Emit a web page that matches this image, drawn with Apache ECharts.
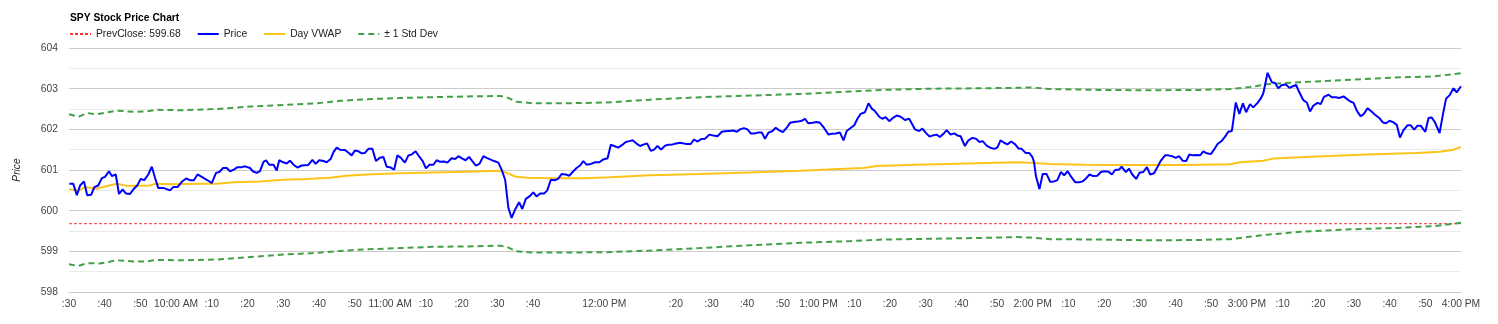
<!DOCTYPE html>
<html>
<head>
<meta charset="utf-8">
<script src="https://cdn.jsdelivr.net/npm/echarts@6/dist/echarts.min.js"></script>
<style>html,body{margin:0;padding:0;background:#fff}#c{width:1498px;height:324px}</style>
</head>
<body>
<div id="c"></div>
<script>
// minutes after 9:30 open
const prevClose = 599.68;
const sessionStart = 0, sessionEnd = 390;
const hiddenXLabels = [140, 160];

const priceTimes = [0.1,1.2,2.2,3.1,4.2,5.1,6.2,7.1,8.2,9.2,10.1,11.2,12.0,13.1,14.0,15.0,16.0,17.1,18.2,19.1,20.1,21.1,22.2,23.2,24.1,25.0,26.4,28.3,29.2,30.4,31.6,32.8,33.9,35.0,36.0,37.2,38.6,40.0,41.2,42.1,43.2,44.2,45.1,46.2,47.2,48.4,49.3,50.7,51.5,52.6,53.5,54.5,55.2,56.1,57.3,58.2,58.9,60.0,61.0,61.9,62.9,64.0,65.2,67.0,68.2,69.1,70.1,71.3,72.2,73.3,74.1,75.0,75.9,77.3,78.5,
79.2,80.1,81.1,82.0,82.9,83.9,85.0,86.0,87.1,88.1,89.0,89.9,91.1,92.0,93.0,94.1,95.1,96.0,97.1,98.2,99.1,100.0,101.0,102.1,103.0,104.0,105.1,106.0,107.2,108.2,109.1,110.2,111.1,112.1,113.0,114.0,115.0,116.1,117.0,118.0,119.1,120.3,121.2,122.2,123.1,124.0,125.0,126.1,127.0,128.0,129.0,130.1,131.0,132.0,133.1,134.0,135.0,136.2,137.1,138.0,139.2,140.2,141.1,142.2,143.2,144.1,145.0,146.2,147.4,148.6,149.7,150.9,151.8,152.7,153.9,154.9,156.0,157.0,
157.9,159.0,160.0,161.1,162.0,163.0,163.9,164.9,165.9,167.0,167.9,169.1,170.1,171.2,172.3,173.2,174.2,175.1,176.1,177.1,178.2,179.4,180.5,181.7,182.9,183.8,184.9,186.1,187.1,188.0,189.1,190.1,191.0,192.2,193.1,194.1,195.0,196.0,197.1,198.0,198.9,200.0,201.1,202.0,203.1,204.2,205.3,206.2,207.1,208.3,209.5,210.4,211.5,212.8,213.7,214.8,216.0,217.0,217.9,218.8,220.0,220.9,221.8,223.0,224.0,224.9,225.8,227.0,227.9,228.8,229.8,231.0,231.9,233.0,234.2,235.4,
237.0,238.2,239.1,240.0,241.1,242.0,243.1,244.0,245.0,245.9,247.0,248.0,248.9,249.8,251.0,252.0,253.1,254.1,255.1,256.0,257.1,258.1,259.2,260.1,261.0,262.0,262.9,264.0,265.1,266.0,266.9,268.0,269.0,269.9,270.4,270.9,271.9,272.8,273.9,274.9,276.0,276.9,277.9,278.8,279.8,280.8,281.9,283.0,284.0,284.9,285.9,287.0,288.1,289.1,290.0,291.2,292.2,293.1,294.2,294.9,296.1,297.0,297.9,299.0,299.9,301.0,302.0,302.9,304.0,305.0,305.9,307.1,308.0,309.0,310.1,311.0,312.0,313.0,313.9,
314.8,316.0,316.9,317.8,318.8,319.9,320.8,321.8,323.0,323.9,324.8,325.8,326.2,326.9,327.9,328.9,329.8,330.9,331.8,333.0,333.9,334.6,335.8,337.0,337.9,338.8,339.8,341.0,341.9,342.9,343.8,344.7,345.8,346.8,347.7,348.6,349.8,350.7,351.6,352.9,353.8,354.9,355.9,357.1,358.0,358.9,359.9,360.8,361.9,362.8,363.8,365.0,365.9,367.1,368.1,369.0,370.0,371.1,372.0,372.9,373.9,375.0,375.9,376.9,377.8,378.7,380.0,380.9,381.8,382.7,384.0,384.9,385.8,386.8,387.9,388.8,390.0];

const priceValues = [600.66,600.66,600.38,600.62,600.72,600.38,600.39,600.58,600.62,600.80,600.83,600.97,600.85,600.89,600.41,600.52,600.42,600.41,600.54,600.62,600.78,600.75,600.89,601.08,600.81,600.56,600.56,600.50,600.58,600.58,600.71,600.79,600.75,600.75,600.89,600.83,600.76,600.68,600.93,600.95,601.05,601.05,600.97,601.01,601.07,601.07,601.09,601.05,600.97,600.93,600.97,601.20,601.24,601.13,601.13,600.99,601.24,601.19,601.16,601.23,601.13,601.06,601.11,601.12,601.25,601.15,601.24,601.22,601.19,601.27,601.44,601.55,601.50,601.49,601.41,
601.36,601.48,601.46,601.41,601.42,601.52,601.52,601.22,601.30,601.32,601.08,601.07,601.01,601.36,601.30,601.18,601.36,601.38,601.46,601.32,601.22,601.04,601.13,601.13,601.24,601.20,601.21,601.18,601.29,601.27,601.34,601.28,601.24,601.32,601.22,601.11,601.15,601.34,601.30,601.26,601.22,601.18,601.01,600.76,600.07,599.82,600.03,600.21,600.04,600.29,600.35,600.45,600.35,600.42,600.42,600.50,600.76,600.75,600.79,600.90,600.89,600.86,600.95,601.05,601.11,601.22,601.13,601.15,601.19,601.19,601.26,601.29,601.62,601.59,601.55,601.61,601.69,601.71,
601.73,601.65,601.59,601.63,601.65,601.47,601.50,601.59,601.50,601.60,601.62,601.63,601.65,601.67,601.65,601.64,601.64,601.75,601.70,601.76,601.77,601.87,601.85,601.83,601.94,601.95,601.96,601.97,601.94,602.00,602.03,602.00,601.90,601.90,601.92,601.92,601.77,601.92,601.96,602.04,601.98,601.93,602.04,602.16,602.18,602.19,602.21,602.26,602.15,602.16,602.18,602.16,602.04,601.87,601.89,601.90,601.92,601.73,601.96,602.02,602.10,602.26,602.38,602.42,602.64,602.51,602.45,602.31,602.26,602.30,602.20,602.29,602.34,602.31,602.23,602.26,
602.00,601.96,602.02,601.92,601.82,601.85,601.87,601.81,601.89,601.98,601.87,601.90,601.85,601.83,601.59,601.73,601.79,601.77,601.69,601.71,601.60,601.55,601.52,601.55,601.73,601.67,601.63,601.70,601.63,601.53,601.52,601.42,601.42,601.32,601.19,600.85,600.53,600.90,600.90,600.71,600.72,600.75,600.95,600.87,600.97,600.83,600.70,600.70,600.72,600.79,600.89,600.85,600.86,600.95,600.97,600.96,600.89,601.00,601.01,601.08,600.95,601.03,600.89,600.78,600.93,600.95,601.07,600.89,600.92,601.08,601.23,601.36,601.36,601.34,601.30,601.34,601.23,601.22,601.38,
601.36,601.37,601.36,601.46,601.41,601.39,601.50,601.64,601.72,601.82,601.94,601.96,602.21,602.66,602.38,602.64,602.42,602.62,602.54,602.65,602.76,602.88,603.39,603.16,603.14,603.01,603.09,603.10,603.02,603.06,603.09,602.91,602.72,602.66,602.44,602.58,602.65,602.62,602.80,602.85,602.79,602.79,602.77,602.81,602.75,602.69,602.65,602.46,602.32,602.38,602.52,602.43,602.36,602.28,602.17,602.15,602.21,602.17,602.11,601.80,601.98,602.10,602.10,601.99,602.09,602.09,601.94,602.28,602.29,602.17,601.91,602.35,602.75,602.84,603.01,602.91,603.06];

const vwapTimes = [0,2.6,4.5,7.7,9.6,13.4,16.2,19.9,22.7,24.1,29.2,36.7,41.4,46.0,53.5,60.0,66.6,73.1,77.8,83.4,92.7,102.1,111.4,120.8,122.6,125.0,128.2,134.8,144.1,151.6,162.8,176.8,190.8,204.8,214.2,222.6,226.3,237.5,251.5,265.5,269.3,274.9,284.2,298.2,312.2,325.3,328.1,334.6,337.4,349.6,363.6,377.6,384.1,387.9,390];
const vwapValues = [600.53,600.49,600.58,600.54,600.58,600.66,600.61,600.61,600.62,600.66,600.65,600.66,600.66,600.70,600.72,600.76,600.78,600.81,600.86,600.89,600.92,600.94,600.96,600.98,600.93,600.84,600.81,600.80,600.80,600.82,600.87,600.90,600.94,600.98,601.02,601.05,601.10,601.13,601.16,601.19,601.18,601.15,601.13,601.12,601.12,601.14,601.19,601.23,601.28,601.33,601.38,601.42,601.45,601.50,601.57];

const upperTimes = [0,2.6,5.2,7.7,13.4,18.1,21.8,24.6,32.1,41.4,50.8,60.0,69.4,75.9,83.4,92.7,102.1,111.4,120.8,122.6,125.4,130.1,139.4,150.6,162.8,176.8,190.8,204.8,218.8,228.1,242.1,256.1,265.5,269.3,274.9,288.9,302.9,316.9,325.3,330.9,335.6,344.9,358.9,372.9,382.3,390];
const upperValues = [602.37,602.31,602.40,602.37,602.46,602.43,602.44,602.48,602.47,602.50,602.56,602.60,602.64,602.70,602.74,602.77,602.79,602.81,602.82,602.79,602.68,602.64,602.64,602.66,602.73,602.79,602.83,602.87,602.93,602.97,603.00,603.01,603.02,603.03,602.99,602.97,602.96,602.97,602.99,603.04,603.11,603.16,603.22,603.28,603.30,603.38];

const lowerTimes = [0,2.6,5.2,8.6,13.4,18.1,21.8,24.6,32.1,41.4,50.8,60.0,69.4,75.9,83.4,92.7,102.1,111.4,120.8,122.6,125.4,130.1,139.4,150.6,162.8,176.8,190.8,204.8,218.8,228.1,242.1,256.1,265.5,269.3,274.9,288.9,302.9,316.9,325.3,335.6,344.9,358.9,372.9,382.3,390];
const lowerValues = [598.68,598.64,598.71,598.70,598.78,598.75,598.75,598.79,598.78,598.80,598.86,598.92,598.96,599.01,599.05,599.08,599.11,599.12,599.14,599.11,599.00,598.97,598.97,598.98,599.02,599.08,599.15,599.21,599.25,599.29,599.31,599.33,599.35,599.34,599.30,599.29,599.27,599.28,599.30,599.41,599.48,599.54,599.58,599.62,599.70];

const zip = (t, v) => t.map((x, i) => [x, v[i]]);

function timeLabel(m) {
  if (hiddenXLabels.indexOf(m) >= 0) return '';
  const t = 570 + m;
  const h = Math.floor(t / 60), mm = t % 60;
  if (mm === 0) {
    const h12 = h > 12 ? h - 12 : h;
    return h12 + ':00 ' + (h >= 12 ? 'PM' : 'AM');
  }
  return ':' + String(mm).padStart(2, '0');
}

const FONT = 'Liberation Sans, Arial, sans-serif';
const FS = 10.3;
const chart = echarts.init(document.getElementById('c'));
chart.setOption({
  animation: false,
  backgroundColor: '#fff',
  title: {
    text: 'SPY Stock Price Chart',
    left: 70, top: 13, padding: 0,
    textStyle: { fontFamily: FONT, fontSize: FS, fontWeight: 'bold', color: '#000' }
  },
  legend: {
    left: 69, top: 29, padding: 0,
    itemWidth: 21, itemHeight: 12, itemGap: 16,
    itemStyle: { opacity: 0 },
    textStyle: { fontFamily: FONT, fontSize: FS, color: '#222' },
    data: ['PrevClose: 599.68', 'Price', 'Day VWAP', '± 1 Std Dev']
  },
  grid: { left: 69, right: 37, top: 48, bottom: 32, containLabel: false },
  xAxis: {
    type: 'value', min: sessionStart, max: sessionEnd, interval: 10,
    axisLine: { show: true, lineStyle: { color: '#ccc' } },
    axisTick: { show: false },
    splitLine: { show: false },
    axisLabel: {
      formatter: timeLabel, margin: 7, showMinLabel: true, showMaxLabel: true,
      fontFamily: FONT, fontSize: FS, color: '#444'
    }
  },
  yAxis: {
    type: 'value', min: 598, max: 604, interval: 1,
    name: 'Price', nameLocation: 'middle', nameGap: 47, nameRotate: 90,
    nameTextStyle: { fontFamily: FONT, fontSize: FS, fontStyle: 'italic', color: '#222' },
    axisLine: { show: false }, axisTick: { show: false },
    axisLabel: { margin: 11, fontFamily: FONT, fontSize: FS, color: '#444' },
    splitLine: { lineStyle: { color: '#cccccc', width: 1 } },
    minorTick: { show: false, splitNumber: 2 },
    minorSplitLine: { show: true, lineStyle: { color: '#ebebeb', width: 1 } }
  },
  series: [
    {
      name: 'PrevClose: 599.68', type: 'line', symbol: 'none',
      data: [[sessionStart, prevClose], [sessionEnd, prevClose]],
      color: '#ff3333',
      lineStyle: { color: '#ff3333', width: 1, type: [3, 2] }
    },
    {
      name: '± 1 Std Dev', type: 'line', symbol: 'none',
      data: zip(upperTimes, upperValues), color: '#43a047',
      lineStyle: { color: '#43a047', width: 2, type: [6, 4] }
    },
    {
      name: '± 1 Std Dev', type: 'line', symbol: 'none',
      data: zip(lowerTimes, lowerValues), color: '#43a047',
      lineStyle: { color: '#43a047', width: 2, type: [6, 4] }
    },
    {
      name: 'Day VWAP', type: 'line', symbol: 'none',
      data: zip(vwapTimes, vwapValues), color: '#fcc419',
      lineStyle: { color: '#fcc419', width: 2 }
    },
    {
      name: 'Price', type: 'line', symbol: 'none',
      data: zip(priceTimes, priceValues), color: '#0000ff',
      lineStyle: { color: '#0000ff', width: 2 }
    }
  ]
});
</script>
</body>
</html>
